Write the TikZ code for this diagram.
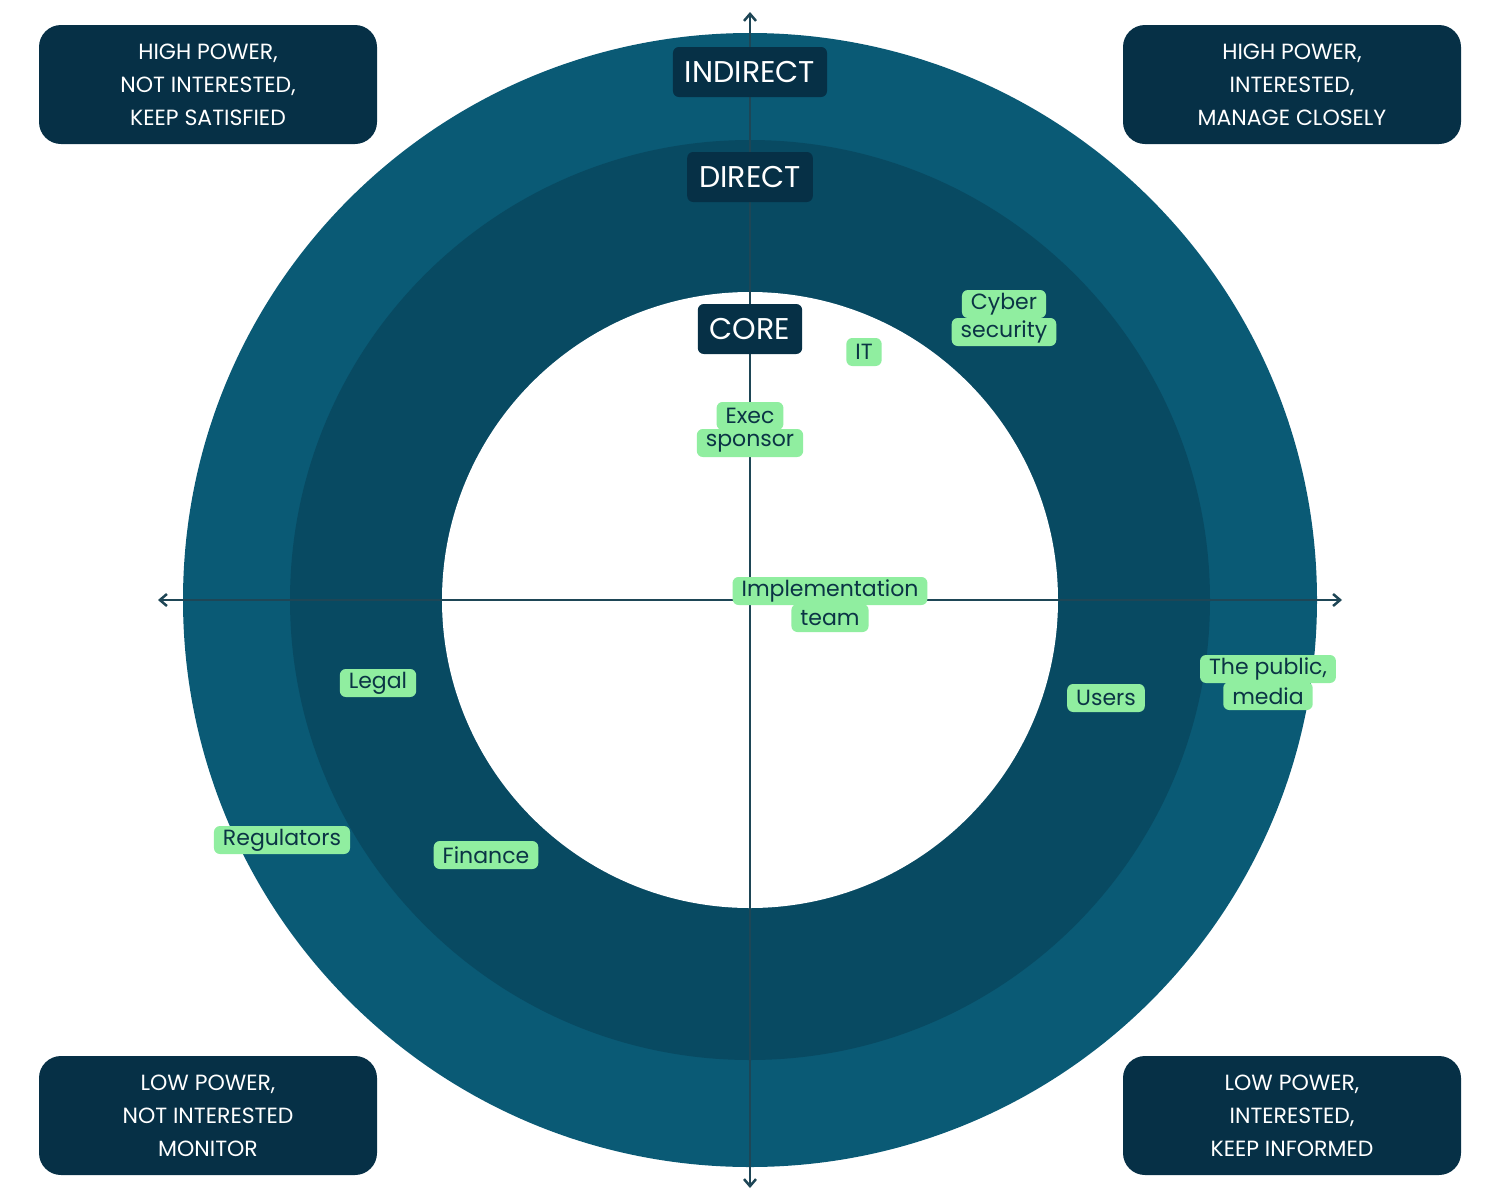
\documentclass[tikz,border=0pt]{standalone}
\usepackage{fontspec}
\setmainfont{Poppins}
\usetikzlibrary{arrows.meta}
\definecolor{outer}{HTML}{0A5A75}
\definecolor{middle}{HTML}{084A62}
\definecolor{boxc}{HTML}{063046}
\definecolor{gr}{HTML}{90EEA0}
\definecolor{ink}{HTML}{0B3445}
\definecolor{axis}{HTML}{1E4656}
\begin{document}
\begin{tikzpicture}[x=1pt,y=-1pt,
  corner/.style={fill=boxc,rounded corners=22pt,minimum width=338pt,minimum height=119pt,text=white,align=center,font=\fontsize{22}{33}\selectfont},
  ring/.style={fill=boxc,rounded corners=6pt,text=white,inner xsep=12pt,minimum height=50pt,font=\fontsize{30}{36}\selectfont},
  tag/.style={fill=gr,rounded corners=6pt,text=ink,inner xsep=9pt,inner ysep=2pt,minimum height=28pt,font=\fontsize{22}{26}\selectfont}]
\useasboundingbox (0,0) rectangle (1500,1200);
\fill[outer] (750,600) circle (567);
\fill[middle] (750,600) circle (460);
\fill[white] (750,600) circle (308);
\coordinate (L) at (158,600); \coordinate (R) at (1342,600);
\coordinate (T) at (750,12); \coordinate (B) at (750,1188);
\draw[axis,line width=2.5pt,<->,>={Straight Barb[length=7pt,width=12pt]}] (L) -- (R);
\draw[axis,line width=2.5pt,<->,>={Straight Barb[length=7pt,width=12pt]}] (T) -- (B);
\node[corner] (tl) at (208,84.5) {HIGH POWER,\\NOT INTERESTED,\\KEEP SATISFIED};
\node[corner] (tr) at (1292,84.5) {HIGH POWER,\\INTERESTED,\\MANAGE CLOSELY};
\node[corner] (bl) at (208,1115.5) {LOW POWER,\\NOT INTERESTED\\MONITOR};
\node[corner] (br) at (1292,1115.5) {LOW POWER,\\INTERESTED,\\KEEP INFORMED};
\node[ring] (indirect) at (750,72) {INDIRECT};
\node[ring] (direct) at (750,177) {DIRECT};
\node[ring] (core) at (750,329) {CORE};
\node[tag] (cyber1) at (1004,304) {Cyber};
\node[tag] (cyber2) at (1004,332) {security};
\node[tag] (it) at (864,352) {IT};
\node[tag] (exec1) at (750,416) {Exec};
\node[tag] (exec2) at (750,443) {sponsor};
\node[tag] (impl1) at (830,591) {Implementation};
\node[tag] (impl2) at (830,618) {team};
\node[tag] (legal) at (378,683) {Legal};
\node[tag] (users) at (1106,698) {Users};
\node[tag] (pub1) at (1268,669) {The public,};
\node[tag] (pub2) at (1268,696) {media};
\node[tag] (reg) at (282,840) {Regulators};
\node[tag] (fin) at (486,855) {Finance};
\end{tikzpicture}
\end{document}
